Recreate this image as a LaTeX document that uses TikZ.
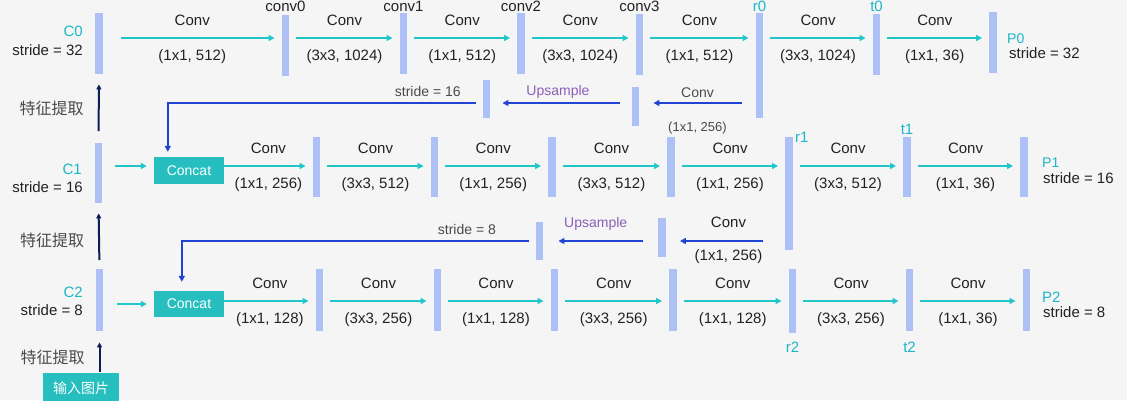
\documentclass[tikz,border=0pt]{standalone}
\usepackage{fontspec}
\setmainfont{Liberation Sans}
\newfontfamily\cjk{Noto Sans CJK SC}
\usetikzlibrary{positioning, arrows.meta}

\definecolor{bgcol}{HTML}{F5F5F5}
\definecolor{barblue}{HTML}{ADC1F6}
\definecolor{linecyan}{HTML}{22C6CA}
\definecolor{tagcyan}{HTML}{1CB6C8}
\definecolor{concatfill}{HTML}{26BEBE}
\definecolor{backblue}{HTML}{2043D2}
\definecolor{featnavy}{HTML}{0C1E58}
\definecolor{upviolet}{HTML}{8C5FBA}
\definecolor{txtdark}{HTML}{222222}
\definecolor{txtgray}{HTML}{4A4A4A}

\begin{document}
\begin{tikzpicture}[
    x=1pt, y=-1pt,
    every node/.style={inner sep=0pt, font=\fontsize{15}{18}\selectfont, text=txtdark},
    convbar/.style={fill=barblue, minimum width=7.5pt, minimum height=61pt, anchor=north},
    concatbox/.style={fill=concatfill, minimum width=70pt, minimum height=27pt, text=white, font=\fontsize{14}{16}\selectfont},
    convarrow/.style={draw=linecyan, line width=2.5pt, -{Triangle[length=6pt, width=6pt]}, shorten <=7pt, shorten >=7pt},
    backarrow/.style={draw=backblue, line width=2.5pt, -{Triangle[length=6pt, width=6pt]}},
    featarrow/.style={draw=featnavy, line width=2pt, -{Triangle[length=5pt, width=5pt]}},
    oplbl/.style={midway, yshift=18pt},
    parlbl/.style={midway, yshift=-19pt},
    taglbl/.style={text=tagcyan},
    uplbl/.style={text=upviolet, font=\fontsize{14}{16}\selectfont},
    stridelbl/.style={text=txtgray, font=\fontsize{14}{16}\selectfont},
    feattxt/.style={midway, left=14pt, text=txtgray, font=\cjk\fontsize{16}{18}\selectfont}
]
\useasboundingbox (0,0) rectangle (1127,400);
\fill[bgcol] (0,0) rectangle (1127,400);

% Rows of the arrows
\coordinate (row0) at (0,38);
\coordinate (up0) at (0,103);
\coordinate (row1) at (0,166);
\coordinate (up1) at (0,241);
\coordinate (row2) at (0,301);

% Row 0
\node[convbar] (C0) at (99,13) {};
\node[convbar] (conv0) at (285.5,15) {};
\node[convbar] (conv1) at (403.5,13) {};
\node[convbar] (conv2) at (521,13) {};
\node[convbar] (conv3) at (639.5,14) {};
\node[convbar, minimum height=105pt] (r0) at (759.5,13) {};
\node[convbar] (t0) at (876.5,14) {};
\node[convbar] (P0) at (993,12) {};

\node[taglbl, anchor=east] (C0name) at (83,31) {C0};
\node[anchor=east] (C0stride) at (83,50) {stride = 32};
\node[above=3pt of conv0] (conv0name) {conv0};
\node[above=1pt of conv1] (conv1name) {conv1};
\node[above=1pt of conv2] (conv2name) {conv2};
\node[above=2pt of conv3] (conv3name) {conv3};
\node[taglbl, above=1pt of r0] (r0name) {r0};
\node[taglbl, above=2pt of t0] (t0name) {t0};
\node[taglbl, anchor=west, font=\fontsize{14}{16}\selectfont] (P0name) at (1007,39) {P0};
\node[anchor=west] (P0stride) at (1009,53) {stride = 32};

\draw[convarrow, shorten <=18pt] (C0.east |- row0) -- node[oplbl] (k0a) {Conv} node[parlbl] (q0a) {(1x1, 512)} (conv0.west |- row0);
\draw[convarrow] (conv0.east |- row0) -- node[oplbl] (k0b) {Conv} node[parlbl] (q0b) {(3x3, 1024)} (conv1.west |- row0);
\draw[convarrow] (conv1.east |- row0) -- node[oplbl] (k0c) {Conv} node[parlbl] (q0c) {(1x1, 512)} (conv2.west |- row0);
\draw[convarrow] (conv2.east |- row0) -- node[oplbl] (k0d) {Conv} node[parlbl] (q0d) {(3x3, 1024)} (conv3.west |- row0);
\draw[convarrow] (conv3.east |- row0) -- node[oplbl] (k0e) {Conv} node[parlbl] (q0e) {(1x1, 512)} (r0.west |- row0);
\draw[convarrow] (r0.east |- row0) -- node[oplbl] (k0f) {Conv} node[parlbl] (q0f) {(3x3, 1024)} (t0.west |- row0);
\draw[convarrow] (t0.east |- row0) -- node[oplbl] (k0g) {Conv} node[parlbl] (q0g) {(1x1, 36)} (P0.west |- row0);

% Row 1
\node[convbar, minimum height=60pt] (C1) at (98.5,143) {};
\node[concatbox] (concat1) at (189,170.5) {Concat};
\node[convbar, minimum height=60pt] (m1a) at (316.5,137) {};
\node[convbar, minimum height=60pt] (m1b) at (434.5,137) {};
\node[convbar, minimum height=60pt] (m1c) at (552,137) {};
\node[convbar, minimum height=60pt] (m1d) at (671,137) {};
\node[convbar, minimum height=113pt] (r1) at (789,137) {};
\node[convbar, minimum height=60pt] (t1) at (907,137) {};
\node[convbar, minimum height=60pt] (P1) at (1024,137) {};

\node[taglbl, anchor=east] (C1name) at (82,169) {C1};
\node[anchor=east] (C1stride) at (83,187) {stride = 16};
\node[taglbl, right=2pt of r1.north east] (r1name) {r1};
\node[taglbl, above=2pt of t1] (t1name) {t1};
\node[taglbl, anchor=west, font=\fontsize{14}{16}\selectfont] (P1name) at (1042,163) {P1};
\node[anchor=west] (P1stride) at (1043,178) {stride = 16};

\draw[convarrow, shorten <=13pt] (C1.east |- row1) -- (concat1.west |- row1);
\draw[convarrow, shorten <=0pt] (concat1.east |- row1) -- node[oplbl] (k1a) {Conv} node[parlbl] (q1a) {(1x1, 256)} (m1a.west |- row1);
\draw[convarrow] (m1a.east |- row1) -- node[oplbl] (k1b) {Conv} node[parlbl] (q1b) {(3x3, 512)} (m1b.west |- row1);
\draw[convarrow] (m1b.east |- row1) -- node[oplbl] (k1c) {Conv} node[parlbl] (q1c) {(1x1, 256)} (m1c.west |- row1);
\draw[convarrow] (m1c.east |- row1) -- node[oplbl] (k1d) {Conv} node[parlbl] (q1d) {(3x3, 512)} (m1d.west |- row1);
\draw[convarrow] (m1d.east |- row1) -- node[oplbl] (k1e) {Conv} node[parlbl] (q1e) {(1x1, 256)} (r1.west |- row1);
\draw[convarrow] (r1.east |- row1) -- node[oplbl] (k1f) {Conv} node[parlbl] (q1f) {(3x3, 512)} (t1.west |- row1);
\draw[convarrow] (t1.east |- row1) -- node[oplbl] (k1g) {Conv} node[parlbl] (q1g) {(1x1, 36)} (P1.west |- row1);

% Upsample from r0
\node[convbar, anchor=center, minimum height=39pt] (upc0) at (635.5,106.5) {};
\node[convbar, anchor=center, minimum height=38pt] (ups0) at (486.5,99) {};
\draw[backarrow, shorten <=14pt, shorten >=14pt] (r0.west |- up0) -- node[midway, yshift=10pt, font=\fontsize{14}{16}\selectfont, text=txtgray] (k05) {Conv} node[midway, yshift=-25pt, font=\fontsize{13}{15}\selectfont, text=txtgray] (q05) {(1x1, 256)} (upc0.east |- up0);
\draw[backarrow, shorten <=12pt, shorten >=12pt] (upc0.west |- up0) -- node[uplbl, midway, xshift=-3pt, yshift=11pt] (u05) {Upsample} (ups0.east |- up0);
\draw[backarrow, shorten <=7pt, shorten >=5pt] (ups0.west |- up0) -| node[stridelbl, pos=0.087, yshift=12pt] (s05) {stride = 16} ([xshift=14pt]concat1.north west);

% Row 2
\node[convbar, minimum height=62pt] (C2) at (99.5,269) {};
\node[concatbox, minimum height=26pt] (concat2) at (189,304) {Concat};
\node[convbar, minimum height=62pt] (m2a) at (319.5,269) {};
\node[convbar, minimum height=62pt] (m2b) at (437.5,269) {};
\node[convbar, minimum height=62pt] (m2c) at (554.5,269) {};
\node[convbar, minimum height=62pt] (m2d) at (673,269) {};
\node[convbar, minimum height=64pt] (r2) at (792.5,269) {};
\node[convbar, minimum height=62pt] (t2) at (909.5,269) {};
\node[convbar, minimum height=62pt] (P2) at (1026.5,269) {};

\node[taglbl, anchor=east] (C2name) at (83,292) {C2};
\node[anchor=east] (C2stride) at (83,310) {stride = 8};
\node[taglbl, below=8pt of r2] (r2name) {r2};
\node[taglbl, below=10pt of t2] (t2name) {t2};
\node[taglbl, anchor=west] (P2name) at (1042,297) {P2};
\node[anchor=west] (P2stride) at (1043,312) {stride = 8};

\draw[convarrow, shorten <=14pt] (C2.east |- concat2.west) -- (concat2.west);
\draw[convarrow, shorten <=0pt] (concat2.east |- row2) -- node[oplbl] (k2a) {Conv} node[parlbl] (q2a) {(1x1, 128)} (m2a.west |- row2);
\draw[convarrow] (m2a.east |- row2) -- node[oplbl] (k2b) {Conv} node[parlbl] (q2b) {(3x3, 256)} (m2b.west |- row2);
\draw[convarrow] (m2b.east |- row2) -- node[oplbl] (k2c) {Conv} node[parlbl] (q2c) {(1x1, 128)} (m2c.west |- row2);
\draw[convarrow] (m2c.east |- row2) -- node[oplbl] (k2d) {Conv} node[parlbl] (q2d) {(3x3, 256)} (m2d.west |- row2);
\draw[convarrow] (m2d.east |- row2) -- node[oplbl] (k2e) {Conv} node[parlbl] (q2e) {(1x1, 128)} (r2.west |- row2);
\draw[convarrow] (r2.east |- row2) -- node[oplbl] (k2f) {Conv} node[parlbl] (q2f) {(3x3, 256)} (t2.west |- row2);
\draw[convarrow] (t2.east |- row2) -- node[oplbl] (k2g) {Conv} node[parlbl] (q2g) {(1x1, 36)} (P2.west |- row2);

% Upsample from r1
\node[convbar, anchor=center, minimum height=39pt] (upc1) at (662,237.5) {};
\node[convbar, anchor=center, minimum height=38pt] (ups1) at (539.5,241) {};
\draw[backarrow, shorten <=22pt, shorten >=14pt] (r1.west |- up1) -- node[midway, xshift=3pt, yshift=19pt] (k15) {Conv} node[midway, xshift=3pt, yshift=-16pt] (q15) {(1x1, 256)} (upc1.east |- up1);
\draw[backarrow, shorten <=15pt, shorten >=15pt] (upc1.west |- up1) -- node[uplbl, midway, xshift=-5pt, yshift=17pt] (u15) {Upsample} (ups1.east |- up1);
\draw[backarrow, shorten <=7pt, shorten >=9pt] (ups1.west |- up1) -| node[stridelbl, pos=0.097, yshift=12pt] (s15) {stride = 8} ([xshift=28pt]concat2.north west);

% Input and feature extraction
\node[concatbox, minimum width=76pt, minimum height=30pt, font=\cjk\fontsize{14}{16}\selectfont] (input) at (81,388) {输入图片};
\draw[featarrow, shorten <=12pt, shorten >=10pt] (C1.north) -- node[feattxt] (f1) {特征提取} (C0.south);
\draw[featarrow, shorten <=9pt, shorten >=10pt] (C2.north) -- node[feattxt, yshift=-4pt] (f2) {特征提取} (C1.south);
\draw[featarrow, shorten <=1pt, shorten >=11pt] (input.north -| C2) -- node[feattxt, yshift=-5pt] (f3) {特征提取} (C2.south);

\end{tikzpicture}
\end{document}
